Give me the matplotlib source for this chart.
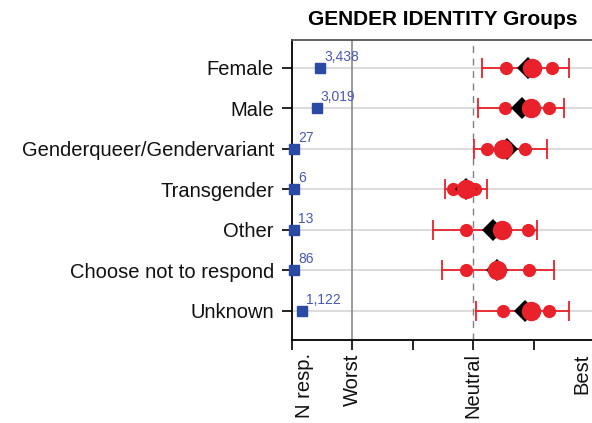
import matplotlib.pyplot as plt
import matplotlib.transforms as mtransforms

groups = ['Female', 'Male', 'Genderqueer/Gendervariant', 'Transgender',
          'Other', 'Choose not to respond', 'Unknown']
n_resp = [3438, 3019, 27, 6, 13, 86, 1122]
n_labels = ['3,438', '3,019', '27', '6', '13', '86', '1,122']

# response scale: 1 = Worst, 3 = Neutral, 5 = Best
low = [3.15, 3.08, 3.02, 2.54, 2.34, 2.49, 3.05]
q1 = [3.55, 3.53, 3.23, 2.67, 2.88, 2.88, 3.50]
mean = [3.98, 3.96, 3.50, 2.88, 3.48, 3.40, 3.96]
median = [3.90, 3.81, 3.56, 2.88, 3.33, 3.40, 3.86]
q3 = [4.31, 4.25, 3.85, 3.03, 3.91, 3.93, 4.26]
high = [4.58, 4.51, 4.23, 3.23, 4.06, 4.33, 4.58]

xticks = [0, 1, 2, 3, 4, 5]
xticklabels = ['N resp.', 'Worst', '', 'Neutral', '', 'Best']

RED = '#e8212b'
BLUE = '#2b4aa3'
NBLUE = '#4a58b0'

plt.rcParams['font.family'] = ['Liberation Sans', 'DejaVu Sans']

fig = plt.figure(figsize=(5.92, 4.23), dpi=100)
ax = fig.add_axes([292 / 592, 1 - 340 / 423, 302 / 592, 300 / 423])

rows = list(range(len(groups)))

for r in rows:
    ax.axhline(r, color='#dcdcdc', lw=1.5, zorder=0)

ax.axvline(1, color='#8a8a8a', lw=1.2, zorder=1)
ax.axvline(3, color='#808080', lw=1.0, ls=(0, (5, 4)), zorder=1)

# N responses as small squares, scaled by count
n_scale = 8000.0
for r in rows:
    xn = n_resp[r] / n_scale + 0.03
    ax.plot(xn, r, 's', color=BLUE, ms=7, zorder=3, clip_on=False)
    ax.annotate(n_labels[r], (xn, r), xytext=(3, 3), textcoords='offset points',
                color=NBLUE, fontsize=10, ha='left', va='bottom')

for r in rows:
    ax.plot([low[r], high[r]], [r, r], color=RED, lw=1.3, zorder=2)
    ax.plot([low[r], high[r]], [r, r], '|', color=RED, ms=14, mew=1.3, zorder=2)
    ax.plot([q1[r], q3[r]], [r, r], 'o', color=RED, ms=9.5, mew=0, zorder=3)
    ax.plot(median[r], r, 'D', color='black', ms=11, mew=0, zorder=4)
    ax.plot(mean[r], r, 'o', color=RED, ms=14, mew=0, zorder=5)

ax.set_xlim(0, 5)
ax.set_ylim(6.72, -0.69)
ax.set_yticks(rows)
ax.set_yticklabels(groups, fontsize=14.5, color='#111111')
ax.set_xticks(xticks)
ax.set_xticklabels(xticklabels, rotation=90, fontsize=14.5, va='top', color='#111111')
ax.tick_params(axis='x', length=7.5, width=1.2, color='black', pad=2)
ax.tick_params(axis='y', length=7, width=1.2, color='black', pad=6)

labs = ax.get_xticklabels()
labs[0].set_transform(labs[0].get_transform() +
                      mtransforms.ScaledTranslation(13 / 100, 0, fig.dpi_scale_trans))
labs[-1].set_transform(labs[-1].get_transform() +
                       mtransforms.ScaledTranslation(-12 / 100, 0, fig.dpi_scale_trans))

for side in ['left', 'bottom', 'top']:
    ax.spines[side].set_linewidth(1.3)
    ax.spines[side].set_color('black')
ax.spines['top'].set_color('#555555')
ax.spines['right'].set_visible(False)

ax.set_title('GENDER IDENTITY Groups', fontsize=15, fontweight='bold', pad=11)

fig.savefig('out.png', dpi=100)
